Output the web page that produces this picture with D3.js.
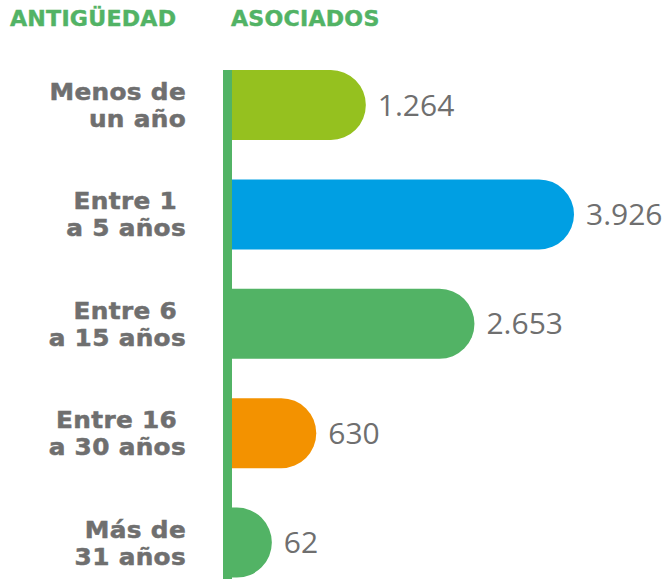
<!DOCTYPE html>
<html>
<head>
<meta charset="utf-8">
<script src="https://cdn.jsdelivr.net/npm/d3@7"></script>
<style>
  html, body { margin: 0; padding: 0; background: #fff; }
  #chart { width: 664px; height: 579px; }
  svg { display: block; }
</style>
</head>
<body>
<div id="chart"></div>
<script>
const kSvgWidth = 664;
const kSvgHeight = 579;

// data
const categoryLines = [
  ["Menos de", "un año"],
  ["Entre 1\u00a0", "a 5 años"],
  ["Entre 6\u00a0", "a 15 años"],
  ["Entre 16\u00a0", "a 30 años"],
  ["Más de", "31 años"]
];
const associates = [1264, 3926, 2653, 630, 62];
const valueLabels = ["1.264", "3.926", "2.653", "630", "62"];
const barColors = ["#95c11f", "#009fe3", "#52b365", "#f39200", "#52b365"];
const headers = ["ANTIGÜEDAD", "ASOCIADOS"];

const kGreen = "#52b365";
const kGray = "#6f6f6f";
const kAxisX = 232;
const kCapRadius = 35;

function createSvg()
{
  return d3.select("#chart")
    .append("svg")
    .attr("width", kSvgWidth)
    .attr("height", kSvgHeight);
}

// bar with a rounded right end
function pillPath(x0, x1, y, h)
{
  const r = Math.min(h / 2, x1 - x0);
  return `M${x0},${y} H${x1 - r} A${r},${r} 0 0 1 ${x1},${y + r}` +
    ` V${y + h - r} A${r},${r} 0 0 1 ${x1 - r},${y + h} H${x0} Z`;
}

function updateSvg(svg)
{
  const ids = d3.range(associates.length);

  const yScale = d3.scaleBand()
    .domain(ids)
    .range([70, 577.6])
    .paddingInner(0.36)
    .paddingOuter(0);

  const xScale = d3.scaleLinear()
    .domain([0, d3.max(associates)])
    .range([kAxisX + kCapRadius, 574]);

  // headers
  svg.selectAll("text.header")
    .data(headers)
    .enter()
    .append("text")
    .attr("class", "header")
    .attr("transform", (d, i) => `translate(${i === 0 ? 10 : 231}, 25.5) scale(1.08, 1)`)
    .attr("fill", kGreen)
    .attr("stroke", kGreen)
    .attr("stroke-width", 0.4)
    .style("font-family", "'DejaVu Sans', sans-serif")
    .style("font-weight", "bold")
    .style("font-size", "20.5px")
    .style("letter-spacing", "0.2px")
    .text(d => d);

  // bars
  svg.selectAll("path.bar")
    .data(ids)
    .enter()
    .append("path")
    .attr("class", "bar")
    .attr("d", i => pillPath(kAxisX, xScale(associates[i]), yScale(i), yScale.bandwidth()))
    .attr("fill", i => barColors[i]);

  // value labels
  svg.selectAll("text.value")
    .data(ids)
    .enter()
    .append("text")
    .attr("class", "value")
    .attr("x", i => xScale(associates[i]) + 12)
    .attr("y", i => yScale(i) + yScale.bandwidth() / 2 + 10.5)
    .attr("fill", kGray)
    .style("font-family", "'Open Sans', sans-serif")
    .style("font-size", "30px")
    .text(i => valueLabels[i]);

  // category labels
  const cat = svg.selectAll("text.cat")
    .data(ids)
    .enter()
    .append("text")
    .attr("class", "cat")
    .attr("transform", "translate(186, 0) scale(1.1, 1)")
    .attr("text-anchor", "end")
    .attr("fill", kGray)
    .attr("stroke", kGray)
    .attr("stroke-width", 0.5)
    .style("font-family", "'DejaVu Sans', sans-serif")
    .style("font-weight", "bold")
    .style("font-size", "22.5px")
    .style("letter-spacing", "0.3px");

  cat.selectAll("tspan")
    .data(i => categoryLines[i].map((t, k) => ({ t, k, i })))
    .enter()
    .append("tspan")
    .attr("x", 0)
    .attr("y", d => yScale(d.i) + yScale.bandwidth() / 2 + (d.k === 0 ? -5 : 22))
    .text(d => d.t);

  // vertical axis line
  svg.append("rect")
    .attr("x", 223)
    .attr("y", yScale(0))
    .attr("width", kAxisX - 223)
    .attr("height", kSvgHeight - yScale(0))
    .attr("fill", kGreen);
}

document.addEventListener('DOMContentLoaded', () => {
  const svg = createSvg();
  updateSvg(svg);
});
</script>
</body>
</html>
